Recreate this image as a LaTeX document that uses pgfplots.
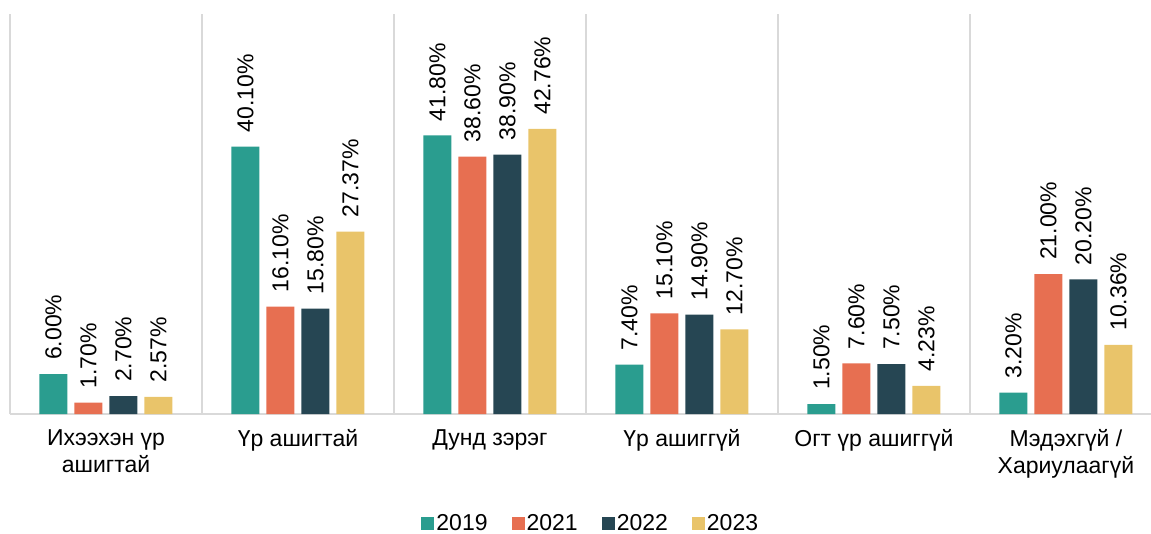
\documentclass[border=0pt]{standalone}
\usepackage{fontspec}
\setmainfont{Liberation Sans}
\usepackage{pgfplots}
\pgfplotsset{compat=1.18}
\definecolor{c19}{HTML}{2A9D8F}
\definecolor{c21}{HTML}{E76F51}
\definecolor{c22}{HTML}{264653}
\definecolor{c23}{HTML}{E9C46A}
\definecolor{sep}{HTML}{D9D9D9}
\begin{document}
\begin{tikzpicture}[font=\fontsize{23}{27}\selectfont]
\path[use as bounding box] (-10pt,-119pt) rectangle (1141pt,414pt);
\begin{axis}[
  scale only axis, width=1141pt, height=400pt,
  xmin=-0.5, xmax=5.443, ymin=0, ymax=60,
  axis x line*=bottom, axis y line=none,
  x axis line style={draw=sep, line width=1.2pt},
  xtick={0,1,2,3,4,5},
  xticklabels={{Ихээхэн үр\\ашигтай},{Үр ашигтай},{Дунд зэрэг},{Үр ашиггүй},{Огт үр ашиггүй},{Мэдэхгүй /\\Хариулаагүй}},
  major tick length=0pt,
  xticklabel style={align=center, font=\fontsize{23}{27}\selectfont, yshift=-12pt},
  extra x ticks={-0.5,0.5,1.5,2.5,3.5,4.5,5.5},
  extra x tick labels={},
  extra x tick style={grid=major, major grid style={draw=sep, line width=1.2pt}},
  ybar=7pt, bar width=28pt,
  nodes near coords={\pgfmathprintnumber[fixed,fixed zerofill,precision=2,assume math mode=true]{\pgfplotspointmeta}\%},
  every node near coord/.append style={rotate=90, anchor=west, inner sep=0pt, xshift=14pt, font=\fontsize{23}{27}\selectfont, text=black},
  legend style={at={(0.509,-0.2725)}, anchor=center, draw=none, legend columns=-1, font=\fontsize{23}{27}\selectfont, /tikz/every even column/.append style={column sep=22pt}},
  legend image code/.code={\fill[#1] (0pt,-6.5pt) rectangle (13pt,6.5pt);},
]
\addplot[fill=c19, draw=none] coordinates {(0,6.00) (1,40.10) (2,41.80) (3,7.40) (4,1.50) (5,3.20)};
\addplot[fill=c21, draw=none] coordinates {(0,1.70) (1,16.10) (2,38.60) (3,15.10) (4,7.60) (5,21.00)};
\addplot[fill=c22, draw=none] coordinates {(0,2.70) (1,15.80) (2,38.90) (3,14.90) (4,7.50) (5,20.20)};
\addplot[fill=c23, draw=none] coordinates {(0,2.57) (1,27.37) (2,42.76) (3,12.70) (4,4.23) (5,10.36)};
\legend{2019,2021,2022,2023}
\end{axis}
\end{tikzpicture}
\end{document}
